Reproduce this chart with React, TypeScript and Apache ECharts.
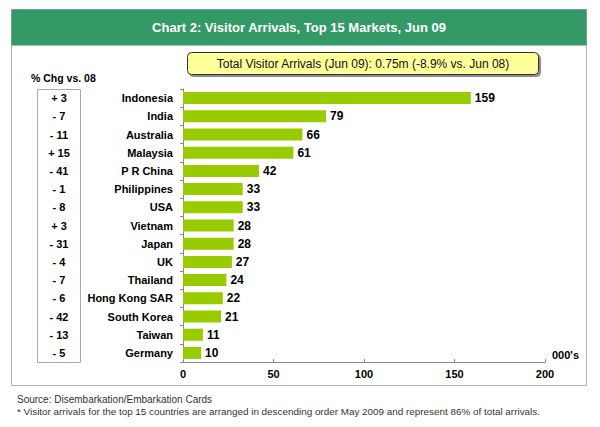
import React, { useEffect, useRef } from "react";
import * as echarts from "echarts";

const categories = [
  "Indonesia", "India", "Australia", "Malaysia", "P R China", "Philippines", "USA",
  "Vietnam", "Japan", "UK", "Thailand", "Hong Kong SAR", "South Korea", "Taiwan", "Germany",
];
const arrivals = [159, 79, 66, 61, 42, 33, 33, 28, 28, 27, 24, 22, 21, 11, 10];
const changes = [
  "+ 3", "- 7", "- 11", "+ 15", "- 41", "- 1", "- 8", "+ 3", "- 31", "- 4", "- 7", "- 6", "- 42", "- 13", "- 5",
];
const xTicks = { min: 0, max: 200, interval: 50 };

const FONT = "'Liberation Sans', Arial, Helvetica, sans-serif";

export default function App() {
  const ref = useRef<HTMLDivElement>(null);
  useEffect(() => {
    if (!ref.current) return;
    const chart = echarts.init(ref.current, null, { renderer: "svg" });
    chart.setOption({
      animation: false,
      backgroundColor: "#ffffff",
      textStyle: { fontFamily: FONT },
      grid: { left: 183, right: 55, top: 89, bottom: 65, containLabel: false },
      xAxis: {
        type: "value",
        min: xTicks.min,
        max: xTicks.max,
        interval: xTicks.interval,
        name: "000's",
        nameLocation: "end",
        nameGap: 7,
        nameTextStyle: {
          fontFamily: FONT, fontWeight: "bold", fontSize: 11, color: "#000",
          verticalAlign: "bottom", padding: [0, 0, 2, 0],
        },
        axisLine: { show: true, lineStyle: { color: "#888", width: 1 } },
        axisTick: { show: true, inside: true, length: 3, lineStyle: { color: "#888" } },
        axisLabel: { fontFamily: FONT, fontWeight: "bold", fontSize: 11, color: "#000", margin: 6 },
        splitLine: { show: false },
      },
      yAxis: [
        {
          type: "category",
          data: categories,
          inverse: true,
          axisLine: { show: true, lineStyle: { color: "#888", width: 1 } },
          axisTick: { show: true, length: 3, lineStyle: { color: "#888" } },
          axisLabel: { fontFamily: FONT, fontWeight: "bold", fontSize: 11, color: "#000", margin: 10 },
        },
        {
          type: "category",
          data: changes,
          inverse: true,
          position: "left",
          offset: 124,
          axisLine: { show: false },
          axisTick: { show: false },
          axisLabel: {
            fontFamily: FONT, fontWeight: "bold", fontSize: 11, color: "#000",
            margin: 0, align: "center",
          },
        },
      ],
      series: [
        {
          type: "bar",
          data: arrivals,
          yAxisIndex: 0,
          barCategoryGap: "34%",
          itemStyle: { color: "#99cc00" },
          label: {
            show: true, position: "right", distance: 4,
            fontFamily: FONT, fontWeight: "bold", fontSize: 12, color: "#000",
          },
        },
      ],
      graphic: [
        {
          type: "rect", z: -10, silent: true,
          shape: { x: 11.5, y: 9.5, width: 575, height: 376 },
          style: { fill: "#ffffff", stroke: "#b0b0b0", lineWidth: 1 },
        },
        {
          type: "rect", z: 10, silent: true,
          shape: { x: 11.5, y: 9.5, width: 575, height: 36 },
          style: { fill: "#339966" },
        },
        {
          type: "text", z: 11, silent: true,
          style: {
            x: 299, y: 27.5, text: "Chart 2: Visitor Arrivals, Top 15 Markets, Jun 09",
            fill: "#ffffff", font: `bold 13px ${FONT}`, align: "center", verticalAlign: "middle",
          },
        },
        {
          type: "rect", z: 10, silent: true,
          shape: { x: 187.5, y: 52.5, width: 351, height: 22, r: 4 },
          style: {
            fill: "#ffff99", stroke: "#333", lineWidth: 1,
            shadowColor: "rgba(0,0,0,0.45)", shadowOffsetX: 2, shadowOffsetY: 2, shadowBlur: 1,
          },
        },
        {
          type: "text", z: 11, silent: true,
          style: {
            x: 363, y: 64, text: "Total Visitor Arrivals (Jun 09): 0.75m (-8.9% vs. Jun 08)",
            fill: "#111", font: `12px ${FONT}`, align: "center", verticalAlign: "middle",
          },
        },
        {
          type: "text", z: 11, silent: true,
          style: {
            x: 31, y: 77.5, text: "% Chg vs. 08",
            fill: "#000", font: `bold 10.5px ${FONT}`, align: "left", verticalAlign: "middle",
          },
        },
        {
          type: "rect", z: -5, silent: true,
          shape: { x: 37.5, y: 89.5, width: 43, height: 273 },
          style: { fill: "#ffffff", stroke: "#aaa", lineWidth: 1 },
        },
        {
          type: "text", z: 11, silent: true,
          style: {
            x: 17, y: 399, text: "Source: Disembarkation/Embarkation Cards",
            fill: "#333", font: `10px ${FONT}`, align: "left", verticalAlign: "middle",
          },
        },
        {
          type: "text", z: 11, silent: true,
          style: {
            x: 17, y: 411,
            text: "* Visitor arrivals for the top 15 countries are arranged in descending order May 2009 and represent 86% of total arrivals.",
            fill: "#333", font: `9.9px ${FONT}`, align: "left", verticalAlign: "middle",
          },
        },
      ],
    });
    return () => chart.dispose();
  }, []);
  return (
    <div
      ref={ref}
      style={{ position: "absolute", left: 0, top: 0, width: 600, height: 427 }}
    />
  );
}
